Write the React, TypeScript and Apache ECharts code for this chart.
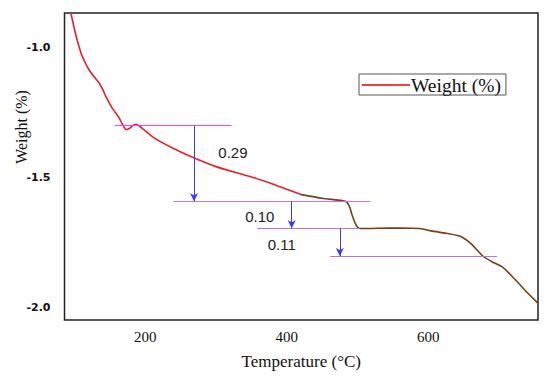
import React, { useEffect, useRef } from "react";
import * as echarts from "echarts";

const tempRed = [95, 102, 109.3, 115, 120.6, 127, 134.7, 140, 144.6, 153, 163, 168, 173, 178, 183, 188, 198, 212, 240, 267, 300, 348, 380, 419];
const weightRed = [-0.865, -0.95, -1.019, -1.055, -1.084, -1.108, -1.134, -1.16, -1.188, -1.23, -1.269, -1.295, -1.315, -1.31, -1.298, -1.296, -1.315, -1.346, -1.388, -1.422, -1.458, -1.496, -1.525, -1.565];
const tempBrown = [419, 450, 478, 485, 489, 492, 496, 500, 505, 530, 560, 588, 606, 625, 645, 661, 677, 690, 705, 722, 739, 753, 755];
const weightBrown = [-1.565, -1.58, -1.589, -1.595, -1.615, -1.642, -1.672, -1.692, -1.697, -1.696, -1.695, -1.697, -1.707, -1.715, -1.727, -1.757, -1.803, -1.825, -1.846, -1.892, -1.942, -1.98, -1.985];

const xTicks = [200, 400, 600];
const yTicks = [-2.0, -1.5, -1.0];

// horizontal guide lines: y, xStart, xEnd
const guideY = [-1.3, -1.592, -1.696, -1.803];
const guideX0 = [157, 240, 358, 461];
const guideX1 = [322, 518, 503, 697];
const guideColors = ["#ff48d8", "#c676e8", "#b774e8", "#b774e8"];

// arrows: x, yFrom, yTo
const arrowX = [269, 407, 475];
const arrowFrom = [-1.3, -1.592, -1.696];
const arrowTo = [-1.592, -1.696, -1.803];

const lossLabels = ["0.29", "0.10", "0.11"];
const labelX = [324, 362, 393];
const labelY = [-1.403, -1.65, -1.757];

export default function App() {
  const ref = useRef<HTMLDivElement>(null);
  useEffect(() => {
    if (!ref.current) return;
    const chart = echarts.init(ref.current, null, { renderer: "svg" });
    const markLines: any[] = [];
    guideY.forEach((y, i) => {
      markLines.push([
        { coord: [guideX0[i], y], lineStyle: { color: guideColors[i], width: 1.2, type: "solid" }, symbol: "none" },
        { coord: [guideX1[i], y], lineStyle: { color: guideColors[i], width: 1.2, type: "solid" }, symbol: "none" },
      ]);
    });
    arrowX.forEach((x, i) => {
      markLines.push([
        { coord: [x, arrowFrom[i]], lineStyle: { color: "#3a3aff", width: 1, type: "solid" }, symbol: "none" },
        { coord: [x, arrowTo[i]], lineStyle: { color: "#3a3aff", width: 1, type: "solid" }, symbol: "arrow", symbolSize: [6, 8] },
      ]);
    });
    chart.setOption({
      animation: false,
      backgroundColor: "#fff",
      grid: {
        left: 64.5,
        top: 13,
        right: 12,
        bottom: 58,
        show: true,
        borderColor: "#222",
        borderWidth: 1.5,
        containLabel: false,
      },
      legend: {
        left: 359,
        top: 74,
        padding: [1, 5, 0, 3],
        borderColor: "#555",
        borderWidth: 1,
        itemWidth: 48,
        itemHeight: 2,
        itemGap: 4,
        icon: "rect",
        data: [{ name: "Weight (%)", itemStyle: { color: "#f0404a" } }],
        textStyle: { fontFamily: "Liberation Serif", fontSize: 19.5, color: "#111", padding: [0, 0, 0, -4] },
      },
      graphic: [
        {
          type: "text",
          x: 21,
          y: 127,
          rotation: Math.PI / 2,
          style: {
            text: "Weight (%)",
            fontFamily: "Liberation Serif",
            fontSize: 16,
            fill: "#111",
            textAlign: "center",
            textVerticalAlign: "middle",
          },
        },
      ],
      xAxis: {
        type: "value",
        min: 86,
        max: 755,
        name: "Temperature (°C)",
        nameLocation: "middle",
        nameGap: 33,
        nameTextStyle: { fontFamily: "Liberation Serif", fontSize: 17, color: "#111" },
        axisLine: { show: false },
        axisTick: { show: false },
        splitLine: { show: false },
        axisLabel: {
          customValues: xTicks,
          margin: 9,
          fontFamily: "Liberation Serif",
          fontSize: 15,
          color: "#111",
        },
      },
      yAxis: {
        type: "value",
        min: -2.05,
        max: -0.865,
        axisLine: { show: false },
        axisTick: { show: false },
        splitLine: { show: false },
        axisLabel: {
          customValues: yTicks,
          margin: 14,
          fontFamily: "DejaVu Sans",
          fontWeight: "bold",
          fontSize: 11,
          color: "#111",
          formatter: (v: number) => v.toFixed(1),
        },
      },
      series: [
        {
          name: "Weight (%)",
          type: "line",
          data: tempRed.map((t, i) => [t, weightRed[i]]),
          showSymbol: false,
          smooth: 0.2,
          lineStyle: { color: "#e8202a", width: 1.6 },
          itemStyle: { color: "#f0404a" },
          markLine: { silent: true, symbol: "none", label: { show: false }, data: markLines },
          markPoint: {
            silent: true,
            symbol: "circle",
            symbolSize: 0,
            data: lossLabels.map((t, i) => ({
              coord: [labelX[i], labelY[i]],
              label: {
                show: true,
                formatter: t,
                position: "inside",
                fontFamily: "Liberation Sans",
                fontSize: 15,
                color: "#222",
              },
            })),
          },
        },
        {
          name: "Weight tail",
          type: "line",
          data: tempBrown.map((t, i) => [t, weightBrown[i]]),
          showSymbol: false,
          smooth: 0.2,
          lineStyle: { color: "#7a3e14", width: 1.6 },
        },
      ],
    });
    return () => chart.dispose();
  }, []);
  return <div ref={ref} style={{ position: "fixed", left: 0, top: 0, width: 550, height: 378 }} />;
}
